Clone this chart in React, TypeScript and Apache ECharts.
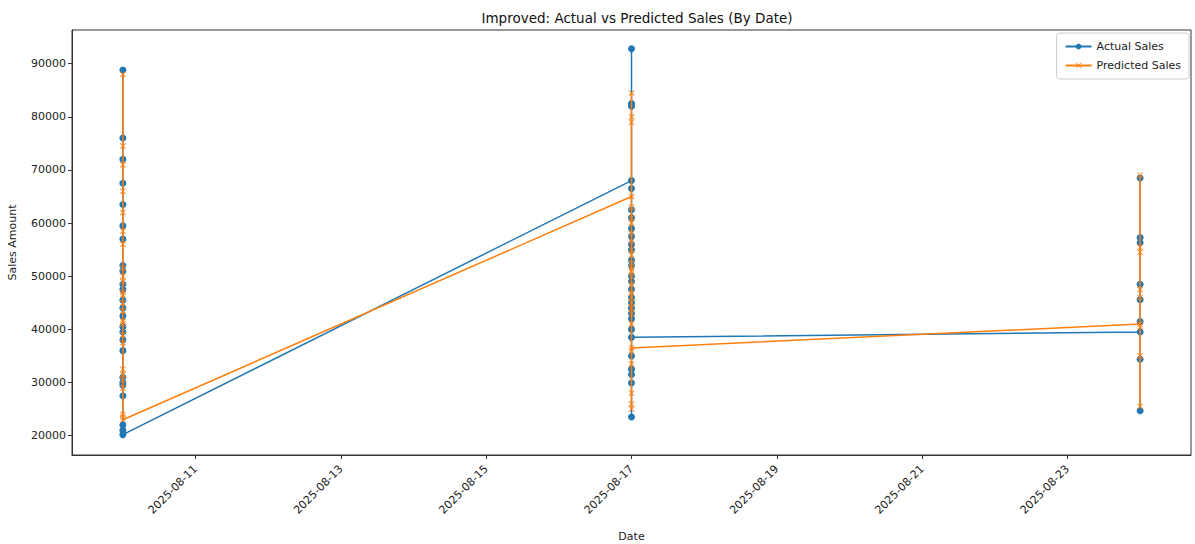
import React, { useEffect, useRef } from "react";
import * as echarts from "echarts";

const dates = ["2025-08-10", "2025-08-17", "2025-08-24"];

const actualAug10 = [51000, 88800, 45500, 76000, 39500, 72000, 63500, 30000, 67500, 48500, 59500, 42500, 57000, 36000, 52000, 44000, 31000, 47500, 27500, 40500, 38000, 29500, 22000, 21000, 20200];
const predictedAug10 = [50000, 88000, 46500, 74500, 41000, 71000, 62000, 31500, 66000, 49000, 58500, 43500, 56000, 37500, 51500, 45000, 32500, 47000, 29000, 41500, 39000, 30500, 24000, 23500, 23000];

const actualAug17 = [68000, 82000, 92800, 55000, 61000, 45000, 82500, 50000, 57500, 42000, 47500, 62500, 53000, 35000, 44000, 59000, 49000, 32500, 23500, 40000, 56000, 31500, 46000, 52000, 29900, 66500, 43000, 38500];
const predictedAug17 = [65000, 80000, 84500, 54000, 60000, 46000, 79000, 51000, 56500, 43000, 48500, 61000, 52500, 36000, 45000, 58000, 50000, 33500, 26000, 41000, 55000, 28000, 47000, 51500, 25000, 63000, 44000, 36500];

const actualAug24 = [39500, 68500, 57300, 56300, 48500, 45600, 41500, 34400, 24700];
const predictedAug24 = [41000, 69000, 54500, 55500, 47500, 46000, 40500, 35000, 25500];

const xTickDates = ["2025-08-11", "2025-08-13", "2025-08-15", "2025-08-17", "2025-08-19", "2025-08-21", "2025-08-23"];
const yTicks = [20000, 30000, 40000, 50000, 60000, 70000, 80000, 90000];

const DAY = 86400000;
const ts = (d: string) => Date.parse(d + "T00:00:00Z");

function build(groups: number[][]) {
  const out: [number, number][] = [];
  groups.forEach((vals, i) => {
    const t = ts(dates[i]);
    vals.forEach((v) => out.push([t, v]));
  });
  return out;
}

const xMark = "path://M0,1L1,0L5,4L9,0L10,1L6,5L10,9L9,10L5,6L1,10L0,9L4,5Z";

export default function App() {
  const ref = useRef<HTMLDivElement>(null);
  useEffect(() => {
    if (!ref.current) return;
    const chart = echarts.init(ref.current, null, { renderer: "svg" });
    const font = "DejaVu Sans";
    const actual = build([actualAug10, actualAug17, actualAug24]);
    const predicted = build([predictedAug10, predictedAug17, predictedAug24]);
    const xMin = ts(dates[0]) - 0.7 * DAY;
    const xMax = ts(dates[2]) + 0.7 * DAY;
    chart.setOption({
      animation: false,
      backgroundColor: "#fff",
      textStyle: { fontFamily: font },
      title: {
        text: "Improved: Actual vs Predicted Sales (By Date)",
        left: 632,
        textAlign: "center",
        top: 6,
        textStyle: { fontFamily: font, fontSize: 13.5, fontWeight: "normal", color: "#111" },
      },
      legend: {
        orient: "vertical",
        right: 6,
        top: 33,
        backgroundColor: "#fff",
        borderColor: "#ccc",
        borderWidth: 1,
        borderRadius: 3,
        padding: [8, 8, 8, 8],
        itemGap: 8,
        itemWidth: 26,
        itemHeight: 7,
        textStyle: { fontFamily: font, fontSize: 11, color: "#222" },
        data: ["Actual Sales", "Predicted Sales"],
      },
      grid: {
        left: 72,
        right: 4,
        top: 30,
        bottom: 89,
        show: true,
        borderColor: "#333",
        borderWidth: 1,
        containLabel: false,
        outerBoundsMode: "none",
      },
      xAxis: {
        type: "value",
        min: xMin,
        max: xMax,
        name: "Date",
        nameLocation: "middle",
        nameGap: 76,
        nameTextStyle: { fontFamily: font, fontSize: 11, color: "#222" },
        splitLine: { show: false },
        axisLine: { show: true, lineStyle: { color: "#333" } },
        axisTick: { show: true, length: 4, lineStyle: { color: "#333" }, customValues: xTickDates.map(ts) },
        axisLabel: {
          customValues: xTickDates.map(ts),
          rotate: 45,
          fontSize: 11,
          color: "#222",
          fontFamily: font,
          margin: 12,
          formatter: (v: number) => new Date(v).toISOString().slice(0, 10),
        },
      },
      yAxis: {
        type: "value",
        min: 16365,
        max: 96335,
        name: "Sales Amount",
        nameLocation: "middle",
        nameGap: 54,
        nameTextStyle: { fontFamily: font, fontSize: 11, color: "#222" },
        splitLine: { show: false },
        axisLine: { show: true, lineStyle: { color: "#333" } },
        axisTick: { show: true, length: 4, lineStyle: { color: "#333" }, customValues: yTicks },
        axisLabel: {
          customValues: yTicks,
          fontSize: 11,
          color: "#222",
          fontFamily: font,
          margin: 6,
          formatter: (v: number) => String(Math.round(v)),
        },
      },
      series: [
        {
          name: "Actual Sales",
          type: "line",
          data: actual,
          symbol: "circle",
          symbolSize: 7,
          showAllSymbol: true,
          lineStyle: { color: "#1f77b4", width: 1.5 },
          itemStyle: { color: "#1f77b4" },
          z: 2,
        },
        {
          name: "Predicted Sales",
          type: "line",
          data: predicted,
          symbol: xMark,
          symbolSize: 6,
          showAllSymbol: true,
          lineStyle: { color: "#ff7f0e", width: 1.5 },
          itemStyle: { color: "#ff7f0e" },
          z: 3,
        },
      ],
    });
    return () => chart.dispose();
  }, []);
  return <div ref={ref} style={{ position: "fixed", left: 0, top: 0, width: 1195, height: 544 }} />;
}
